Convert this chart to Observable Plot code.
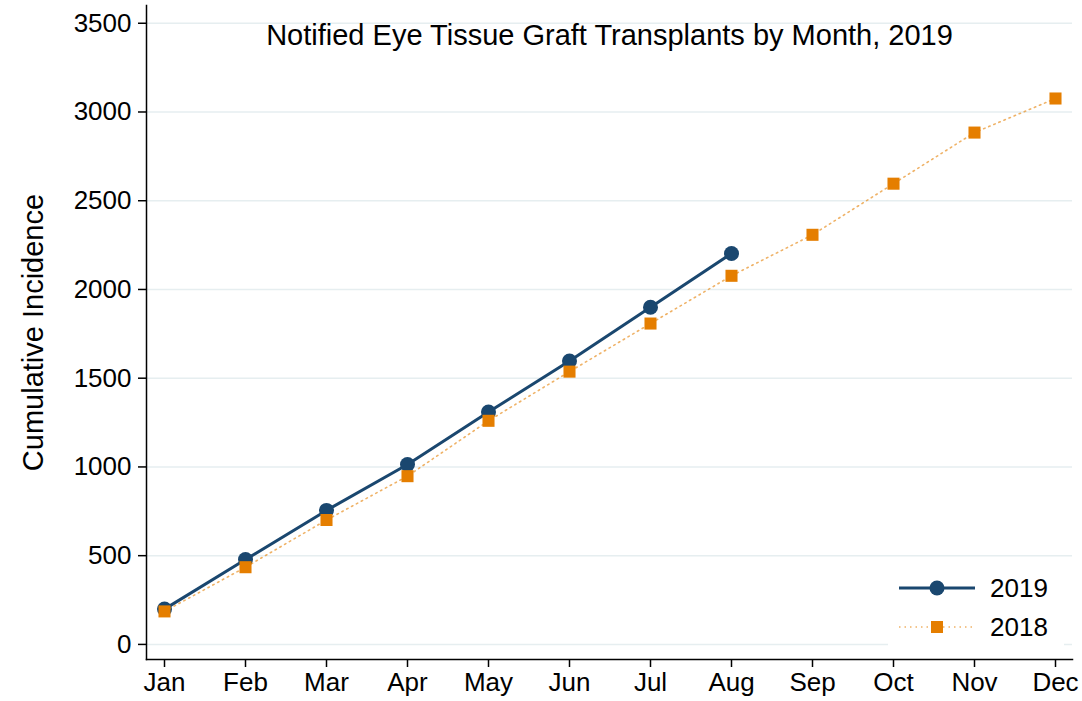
<!DOCTYPE html>
<html>
<head>
<meta charset="utf-8">
<script src="https://cdn.jsdelivr.net/npm/d3@7"></script>
<script src="https://cdn.jsdelivr.net/npm/@observablehq/plot@0.6"></script>
<style>
  html, body { margin: 0; padding: 0; background: #fff; }
  #wrap { position: relative; width: 1082px; height: 701px; font-family: "Liberation Sans", Arial, sans-serif; }
  #legend { position: absolute; left: 888px; top: 566px; width: 176px; height: 84px; background: #fff; }
  #legend .row { position: absolute; left: 0; height: 30px; display: flex; align-items: center; }
  #legend .row span { font-size: 26px; color: #000; margin-left: 12px; }
</style>
</head>
<body>
<div id="wrap"></div>
<script>
const months = ["Jan","Feb","Mar","Apr","May","Jun","Jul","Aug","Sep","Oct","Nov","Dec"];
const values2019 = [199, 478, 755, 1014, 1309, 1597, 1900, 2203];
const values2018 = [186, 435, 701, 948, 1260, 1537, 1808, 2077, 2308, 2596, 2884, 3076];
const yTicks = [0, 500, 1000, 1500, 2000, 2500, 3000, 3500];
const titleText = "Notified Eye Tissue Graft Transplants by Month, 2019";
const yLabel = "Cumulative Incidence";
const seriesNames = ["2019", "2018"];

const navy = "#1a476f";
const orange = "#e57e00";

const d2019 = values2019.map((v, i) => ({month: months[i], value: v}));
const d2018 = values2018.map((v, i) => ({month: months[i], value: v}));

const chart = Plot.plot({
  width: 1082,
  height: 701,
  marginLeft: 146,
  marginRight: 10,
  marginTop: 5,
  marginBottom: 42,
  style: {fontFamily: "'Liberation Sans', Arial, sans-serif", fontSize: "26px", color: "#000", background: "#fff"},
  x: {type: "point", domain: months, padding: 0.195},
  y: {domain: [-85, 3600]},
  marks: [
    Plot.gridY(yTicks, {stroke: "#e6eef0", strokeOpacity: 1, strokeWidth: 1.5}),
    Plot.axisY(yTicks, {tickSize: 8, tickPadding: 7, fontSize: 26, label: null, strokeWidth: 1.5, tickFormat: d => String(d)}),
    Plot.axisX(months, {tickSize: 8, tickPadding: 5, fontSize: 26, label: null, strokeWidth: 1.5}),
    Plot.frame({anchor: "left", stroke: "#000", strokeWidth: 1.5}),
    Plot.frame({anchor: "bottom", stroke: "#000", strokeWidth: 1.5}),
    Plot.line(d2019, {x: "month", y: "value", stroke: navy, strokeWidth: 3}),
    Plot.dot(d2019, {x: "month", y: "value", r: 7.5, fill: navy, stroke: "none"}),
    Plot.line(d2018, {x: "month", y: "value", stroke: orange, strokeOpacity: 0.6, strokeWidth: 1.6, strokeDasharray: "1.5,4"}),
    Plot.dot(d2018, {x: "month", y: "value", symbol: "square", r: 6.8, fill: orange, stroke: "none"}),
    Plot.text([titleText], {frameAnchor: "top", dy: 30, lineAnchor: "middle", textAnchor: "middle", fontSize: 29, fill: "#000"}),
    Plot.text([yLabel], {frameAnchor: "left", rotate: -90, dx: -113, lineAnchor: "middle", textAnchor: "middle", fontSize: 29, fill: "#000"})
  ]
});
const wrap = document.getElementById("wrap");
wrap.appendChild(chart);

// legend
const legend = document.createElement("div");
legend.id = "legend";
legend.innerHTML = `
  <div class="row" style="top:7px">
    <svg width="90" height="30"><line x1="11" y1="15" x2="87" y2="15" stroke="${navy}" stroke-width="3"/><circle cx="49" cy="15" r="7.5" fill="${navy}"/></svg>
    <span>${seriesNames[0]}</span>
  </div>
  <div class="row" style="top:46px">
    <svg width="90" height="30"><line x1="11" y1="15" x2="87" y2="15" stroke="${orange}" stroke-opacity="0.6" stroke-width="1.6" stroke-dasharray="1.5,4"/><rect x="43" y="9" width="12" height="12" fill="${orange}"/></svg>
    <span>${seriesNames[1]}</span>
  </div>`;
wrap.appendChild(legend);
</script>
</body>
</html>
